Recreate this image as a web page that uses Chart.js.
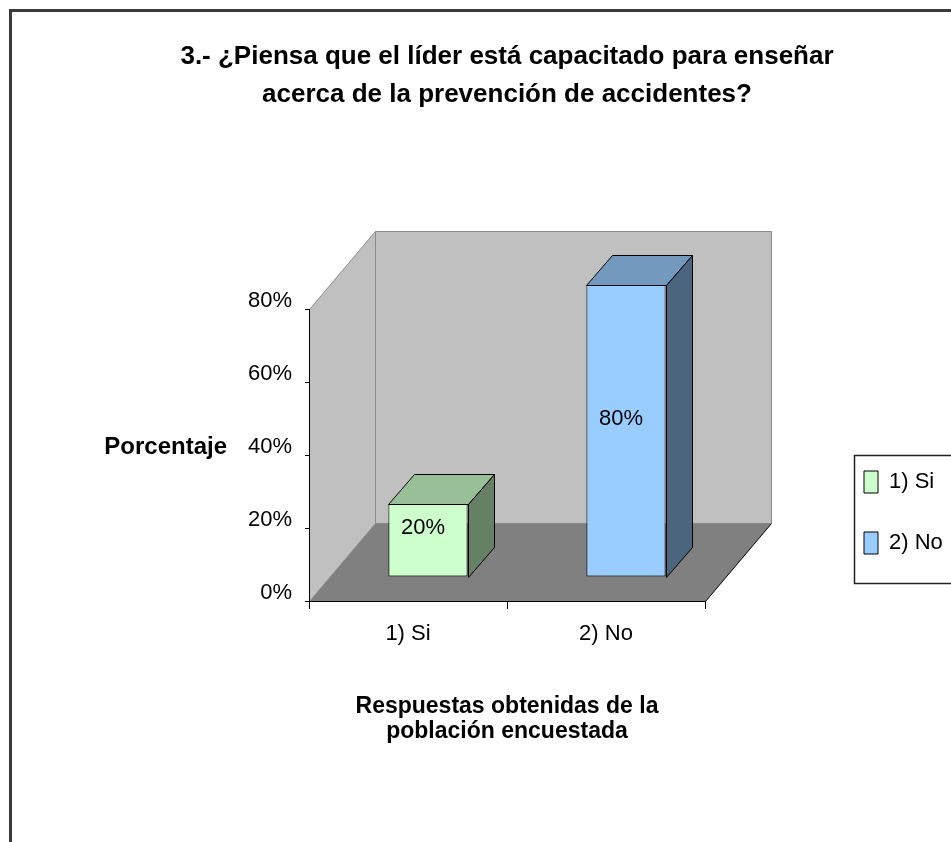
<!DOCTYPE html>
<html>
<head>
<meta charset="utf-8">
<script src="https://cdn.jsdelivr.net/npm/chart.js@4.4.0/dist/chart.umd.min.js"></script>
<style>
html,body{margin:0;padding:0;background:#fff;}
#wrap{position:relative;width:951px;height:842px;}
</style>
</head>
<body>
<div id="wrap"><canvas id="c" width="951" height="842"></canvas></div>
<script>
// ---- data ----
const categories = ['1) Si', '2) No'];
const values = [20, 80];
const yTickLabels = ['0%', '20%', '40%', '60%', '80%'];
const titleLines = ['3.- ¿Piensa que el líder está capacitado para enseñar', 'acerca de la prevención de accidentes?'];
const xTitleLines = ['Respuestas obtenidas de la', 'población encuestada'];
const yTitle = 'Porcentaje';

// ---- styles ----
const FONT = '"Liberation Sans", Arial, sans-serif';
const frontColors = ['#CCFFCC', '#99CCFF'];
const topColors = ['#99BF99', '#7399BF'];
const sideColors = ['#668066', '#4D6680'];
const WALL = '#C0C0C0', WALL_EDGE = '#8C8C8C', FLOOR = '#808080';
const DEPTH = {x: 66, y: -78};          // full floor depth
const BAR_FRONT = {x: 20, y: -24};      // bar front face offset into depth
const BAR_DEPTH = {x: 26, y: -30};      // bar thickness in depth

function poly(ctx, pts, fill, stroke, lw) {
  ctx.beginPath();
  ctx.moveTo(pts[0][0], pts[0][1]);
  for (let i = 1; i < pts.length; i++) ctx.lineTo(pts[i][0], pts[i][1]);
  ctx.closePath();
  if (fill) { ctx.fillStyle = fill; ctx.fill(); }
  if (stroke) { ctx.strokeStyle = stroke; ctx.lineWidth = lw || 1; ctx.stroke(); }
}

const threeD = {
  id: 'threeD',
  beforeDraw(chart) {
    const ctx = chart.ctx, a = chart.chartArea, ys = chart.scales.y;
    ctx.save();
    // outer frame of the chart object
    ctx.strokeStyle = '#3a3a3a'; ctx.lineWidth = 3;
    ctx.strokeRect(10.5, 10.5, chart.width + 200, chart.height + 200);
    const L = a.left + 0.5, R = a.right + 0.5;
    const T = ys.getPixelForValue(ys.max) + 0.5, B = ys.getPixelForValue(ys.min) + 0.5;
    const dx = DEPTH.x, dy = DEPTH.y;
    // back wall
    poly(ctx, [[L+dx,T+dy],[R+dx,T+dy],[R+dx,B+dy],[L+dx,B+dy]], WALL, WALL_EDGE, 1);
    // side wall
    poly(ctx, [[L,T],[L+dx,T+dy],[L+dx,B+dy],[L,B]], WALL, WALL_EDGE, 1);
    // floor
    poly(ctx, [[L,B],[R,B],[R+dx,B+dy],[L+dx,B+dy]], FLOOR, null);
    ctx.beginPath(); ctx.moveTo(R, B); ctx.lineTo(R+dx, B+dy);
    ctx.strokeStyle = '#000'; ctx.lineWidth = 1; ctx.stroke();
    // title block: centred over the plot, wide enough for the first line
    const tb = chart.titleBlock;
    const cx = (a.left + a.right) / 2;
    tb.left = cx - 420; tb.right = cx + 420; tb.width = 840;
    // legend placement + frame
    const lg = chart.legend;
    lg.left = a.right + 120; lg.top = a.top + 123;
    lg.right = lg.left + lg.width; lg.bottom = lg.top + lg.height;
    ctx.fillStyle = '#fff';
    ctx.fillRect(lg.left + 29.5, lg.top + 23.5, 300, 128);
    ctx.strokeStyle = '#222'; ctx.lineWidth = 1.5;
    ctx.strokeRect(lg.left + 29.5, lg.top + 23.5, 300, 128);
    ctx.restore();
  },
  beforeDatasetDraw(chart) {
    chart.ctx.save();
    chart.ctx.translate(BAR_FRONT.x, BAR_FRONT.y);
  },
  afterDatasetDraw(chart, args) {
    const ctx = chart.ctx;
    ctx.restore();
    const meta = args.meta;
    ctx.save();
    meta.data.forEach((el, i) => {
      const l = Math.round(el.x - el.width / 2) + BAR_FRONT.x + 0.5;
      const r = Math.round(el.x + el.width / 2) + BAR_FRONT.x + 0.5;
      const t = Math.round(el.y) + BAR_FRONT.y + 0.5;
      const b = Math.round(el.base) + BAR_FRONT.y + 0.5;
      const bx = BAR_DEPTH.x, by = BAR_DEPTH.y;
      poly(ctx, [[l,t],[r,t],[r+bx,t+by],[l+bx,t+by]], topColors[i], '#000', 1);
      poly(ctx, [[r,t],[r+bx,t+by],[r+bx,b+by],[r,b]], sideColors[i], '#000', 1);
    });
    ctx.restore();
  },
  afterDatasetsDraw(chart) {
    const ctx = chart.ctx;
    const meta = chart.getDatasetMeta(0);
    ctx.save();
    ctx.font = '22px ' + FONT;
    ctx.fillStyle = '#000';
    ctx.textAlign = 'center';
    ctx.textBaseline = 'middle';
    meta.data.forEach((el, i) => {
      const cx = el.x + BAR_FRONT.x - 5;
      const cy = (el.y + el.base) / 2 + BAR_FRONT.y - 12;
      ctx.fillText(values[i] + '%', cx, cy);
    });
    ctx.restore();
  },
  afterDraw(chart) {
    const ctx = chart.ctx, ys = chart.scales.y, a = chart.chartArea;
    ctx.save();
    ctx.font = 'bold 24px ' + FONT;
    ctx.fillStyle = '#000';
    ctx.textAlign = 'right';
    ctx.textBaseline = 'middle';
    ctx.fillText(yTitle, a.left - 82, ys.getPixelForValue(40) - 8);
    ctx.restore();
  }
};

const chart = new Chart(document.getElementById('c').getContext('2d'), {
  type: 'bar',
  data: {
    labels: categories,
    datasets: [{
      data: values,
      backgroundColor: frontColors,
      borderColor: '#000',
      borderWidth: 1,
      borderSkipped: false,
      barPercentage: 0.4,
      categoryPercentage: 1,
      clip: false
    }]
  },
  options: {
    responsive: false,
    animation: false,
    devicePixelRatio: 1,
    layout: {padding: {top: 0, right: 246, bottom: 0, left: 0}},
    scales: {
      x: {
        grid: {display: true, drawOnChartArea: false, drawTicks: true, tickLength: 8, color: '#000', offset: true},
        border: {display: true, color: '#000', width: 1},
        ticks: {font: {family: FONT, size: 22}, color: '#000', padding: 12},
        title: {display: true, text: xTitleLines, color: '#000',
                font: {family: FONT, size: 23, weight: 'bold', lineHeight: '25px'},
                padding: {top: 0, bottom: 98}},
        afterFit: s => { s.height = 241; }
      },
      y: {
        min: 0, max: 80,
        grid: {display: true, drawOnChartArea: false, drawTicks: true, tickLength: 4, color: '#000'},
        border: {display: true, color: '#000', width: 1},
        ticks: {stepSize: 20, font: {family: FONT, size: 22}, color: '#000', padding: 13, labelOffset: -8,
                callback: (v) => yTickLabels[Math.round(v / 20)]},
        afterFit: s => { s.width = 309; }
      }
    },
    plugins: {
      title: {
        display: true, text: titleLines, fullSize: false, color: '#000',
        font: {family: FONT, size: 26, weight: 'bold', lineHeight: '38px'},
        padding: {top: 38, bottom: 195}
      },
      legend: {
        display: true, position: 'chartArea', align: 'start',
        labels: {
          boxWidth: 14, boxHeight: 22, padding: 39, color: '#000',
          font: {family: FONT, size: 22},
          generateLabels: () => categories.map((c, i) => ({
            text: c, fillStyle: frontColors[i], strokeStyle: '#000', lineWidth: 1,
            hidden: false, index: i, datasetIndex: 0
          }))
        }
      },
      tooltip: {enabled: false}
    }
  },
  plugins: [threeD]
});
</script>
</body>
</html>
